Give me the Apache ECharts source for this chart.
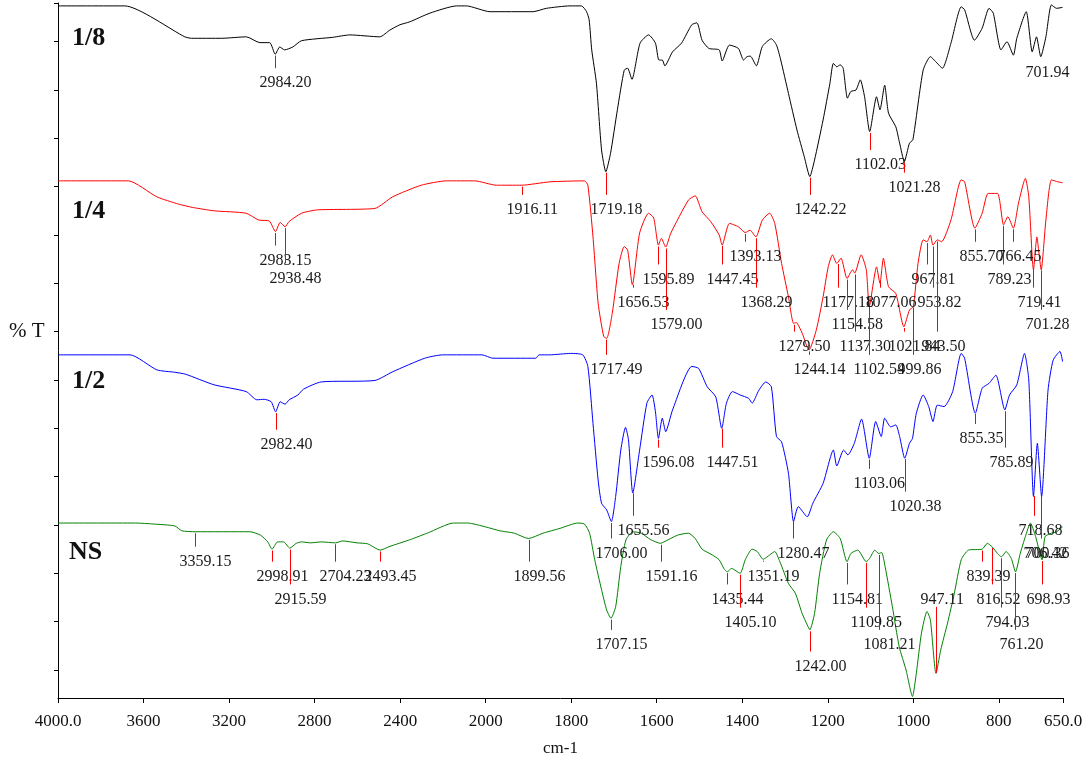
<!DOCTYPE html>
<html>
<head>
<meta charset="utf-8">
<script src="https://cdn.jsdelivr.net/npm/echarts@6/dist/echarts.min.js"></script>
<style>
  html, body { margin: 0; padding: 0; background: #fff; }
  #chart { width: 1092px; height: 762px; }
</style>
</head>
<body>
<div id="chart"></div>
<script>
// FTIR spectra, [wavenumber (cm-1), offset %T]
const spec18 = [
  [4000,137.4],[3688,137.4],[3407,131.0],[3376,130.7],[3234,130.7],[3119,131.0],[3056,129.8],[3010,129.8],
  [2984,127.4],[2963,128.9],[2940,128.3],[2902,128.9],[2861,130.2],[2715,130.9],[2635,131.4],[2495,131.0],
  [2448,132.4],[2401,133.5],[2355,134.1],[2261,135.9],[2136,137.4],[2090,137.4],[1990,136.2],[1889,136.2],
  [1858,136.9],[1803,137.4],[1776,137.4],[1764,136.2],[1758,134.5],[1752,128.3],[1741,121.4],[1729,107.6],
  [1719,103.1],[1708,106.9],[1692,115.9],[1676,124.1],[1668,124.5],[1658,122.2],[1639,129.7],[1619,131.4],
  [1603,129.7],[1595,126.2],[1587,126.2],[1581,125.0],[1563,127.9],[1542,129.7],[1518,133.5],[1506,133.9],
  [1494,130.3],[1478,128.6],[1454,128.3],[1447,126.0],[1430,129.3],[1409,128.6],[1397,126.2],[1389,126.9],
  [1381,127.0],[1367,125.0],[1353,129.0],[1332,130.6],[1320,129.3],[1310,126.2],[1292,119.3],[1272,111.7],
  [1255,106.2],[1242,102.1],[1231,105.5],[1211,113.8],[1195,121.4],[1187,125.5],[1179,124.8],[1171,125.2],
  [1164,124.5],[1154,118.3],[1146,119.7],[1134,120.0],[1124,122.1],[1114,118.6],[1102,111.4],[1086,118.6],
  [1078,115.9],[1067,121.0],[1058,115.2],[1041,112.4],[1032,109.0],[1021,105.2],[1009,109.0],[1001,109.7],
  [977,124.1],[960,126.9],[948,125.9],[932,124.5],[912,129.7],[888,137.2],[880,136.6],[857,130.3],
  [839,132.8],[823,136.9],[813,135.9],[795,128.3],[781,130.0],[766,127.2],[758,130.7],[736,136.2],
  [722,127.9],[712,131.0],[702,126.9],[690,131.0],[677,137.6],[665,136.9],[651,137.1]
];
const spec14 = [
  [4000,101.2],[3671,101.2],[3538,97.9],[3437,96.4],[3370,95.7],[3270,95.0],[3120,94.5],[3062,93.1],
  [3012,92.9],[2983,90.7],[2961,92.6],[2938,91.7],[2919,92.8],[2861,94.5],[2786,95.2],[2518,95.5],
  [2435,97.9],[2301,100.3],[2184,101.2],[2051,101.2],[1975,100.3],[1916,100.3],[1850,101.0],[1769,101.2],
  [1761,100.3],[1749,89.6],[1737,75.9],[1724,69.0],[1717,68.6],[1704,73.8],[1688,84.1],[1676,87.6],
  [1668,86.9],[1657,79.7],[1640,90.4],[1619,94.5],[1607,93.5],[1596,87.9],[1589,89.3],[1579,87.5],
  [1567,90.4],[1526,97.2],[1510,98.1],[1494,94.8],[1474,92.8],[1454,90.0],[1447,87.9],[1430,92.4],
  [1409,91.7],[1393,90.5],[1382,91.0],[1368,89.6],[1353,93.1],[1336,94.5],[1324,92.4],[1308,84.1],
  [1292,77.2],[1280,71.7],[1274,71.9],[1260,69.7],[1244,66.2],[1227,70.3],[1211,77.2],[1199,83.4],
  [1189,85.9],[1179,84.1],[1169,85.2],[1155,81.0],[1142,82.8],[1137,82.1],[1122,85.9],[1110,82.8],
  [1103,75.2],[1086,83.4],[1078,80.0],[1070,85.2],[1058,79.3],[1041,77.9],[1022,71.0],[1009,74.5],
  [1000,75.2],[989,84.1],[977,89.0],[968,88.6],[960,90.0],[954,87.9],[944,89.0],[934,88.6],
  [912,93.1],[888,101.4],[880,101.0],[856,91.4],[839,94.5],[825,98.6],[803,98.6],[789,92.1],
  [779,93.8],[766,91.4],[754,96.6],[738,101.7],[730,97.9],[719,82.8],[711,89.6],[707,86.9],
  [701,82.8],[690,93.1],[677,101.4],[662,101.0],[651,100.8]
];
const spec12 = [
  [4000,65.2],[3663,65.2],[3538,62.1],[3454,61.6],[3404,61.2],[3270,59.0],[3120,57.6],[3070,55.9],
  [3036,56.0],[3003,55.5],[2982,53.4],[2961,55.5],[2938,55.0],[2919,55.9],[2878,56.9],[2852,58.1],
  [2769,59.6],[2518,59.9],[2435,61.7],[2285,64.5],[2201,65.2],[2017,65.2],[1983,64.5],[1883,64.5],
  [1875,65.2],[1850,65.2],[1801,65.5],[1773,65.2],[1761,62.8],[1749,51.0],[1737,39.3],[1729,34.5],
  [1717,33.1],[1706,30.7],[1696,35.9],[1684,45.5],[1673,50.2],[1666,47.6],[1656,36.6],[1640,45.5],
  [1623,55.2],[1611,56.9],[1603,53.4],[1596,47.9],[1587,52.1],[1579,49.3],[1563,53.8],[1518,62.8],
  [1502,62.4],[1482,58.6],[1462,56.5],[1448,50.0],[1437,55.2],[1423,57.6],[1405,56.9],[1385,56.2],
  [1377,55.2],[1361,57.9],[1345,59.6],[1332,58.6],[1320,48.3],[1308,47.2],[1292,40.7],[1280,30.7],
  [1269,33.8],[1248,31.7],[1235,34.5],[1211,38.6],[1187,45.5],[1179,42.2],[1163,45.5],[1153,44.5],
  [1138,46.9],[1121,51.9],[1103,43.8],[1088,51.4],[1075,48.3],[1067,52.1],[1053,50.3],[1041,50.7],
  [1032,48.3],[1020,43.8],[1009,46.9],[1002,47.9],[993,53.1],[977,56.9],[964,54.5],[954,51.4],
  [944,54.8],[928,54.5],[908,57.6],[888,65.5],[880,64.5],[855,53.1],[839,58.3],[823,59.3],
  [807,61.0],[786,53.8],[775,56.9],[758,59.0],[740,65.5],[730,60.0],[719,35.9],[710,46.9],
  [700,35.9],[685,57.9],[673,64.1],[657,65.9],[651,63.8]
];
const specNS = [
  [4000,30.4],[3638,30.4],[3554,30.2],[3454,29.8],[3421,28.8],[3359,28.6],[3103,28.6],[3053,27.9],
  [3019,26.5],[2999,25.0],[2973,26.5],[2945,26.5],[2916,25.2],[2886,26.2],[2861,26.5],[2819,26.3],
  [2769,26.5],[2702,26.3],[2669,26.7],[2602,26.3],[2552,26.1],[2493,24.8],[2452,25.5],[2351,27.0],
  [2268,28.4],[2151,30.4],[2084,30.4],[2000,29.6],[1967,28.8],[1933,28.3],[1900,27.2],[1866,28.3],
  [1826,29.3],[1785,30.4],[1769,30.2],[1757,28.3],[1745,22.8],[1729,16.6],[1717,12.4],[1707,10.7],
  [1696,13.1],[1684,21.4],[1672,26.9],[1656,28.6],[1636,28.3],[1615,27.0],[1591,26.2],[1583,26.5],
  [1551,27.9],[1526,28.3],[1510,27.2],[1494,25.0],[1470,23.8],[1454,22.8],[1443,21.0],[1435,20.3],
  [1425,21.0],[1405,20.0],[1393,22.8],[1377,25.0],[1365,24.5],[1351,22.9],[1336,23.8],[1324,24.5],
  [1312,22.4],[1292,17.9],[1276,15.9],[1260,11.7],[1248,9.3],[1242,8.3],[1231,11.7],[1219,20.0],
  [1203,26.9],[1187,28.6],[1171,27.2],[1155,22.4],[1146,24.1],[1130,24.8],[1110,22.4],[1102,23.1],
  [1090,24.8],[1081,24.1],[1074,24.3],[1066,21.4],[1049,13.1],[1033,4.8],[1017,0.0],[1002,-5.5],
  [993,-0.7],[981,7.6],[968,12.1],[960,10.3],[947,-0.7],[936,4.1],[920,9.7],[904,15.9],
  [888,22.8],[871,24.8],[839,25.0],[827,26.2],[816,25.5],[803,24.1],[794,23.4],[783,24.5],
  [771,23.1],[761,20.3],[750,24.1],[738,27.6],[726,30.4],[714,27.6],[699,22.8],[692,27.6],
  [677,28.3],[665,28.6],[651,29.6]
];

// picked peaks (the text is the wavenumber)
const peaks18 = ['2984.20','1719.18','1242.22','1102.03','1021.28','701.94'];
const peaks14 = ['2983.15','2938.48','1916.11','1717.49','1656.53','1595.89','1579.00','1447.45','1393.13',
  '1368.29','1279.50','1244.14','1177.18','1154.58','1137.30','1102.54','1077.06','1021.84','999.86',
  '967.81','953.82','943.50','855.70','789.23','766.45','719.41','701.28'];
const peaks12 = ['2982.40','1706.00','1655.56','1596.08','1447.51','1280.47','1103.06','1020.38','855.35',
  '785.89','718.68','700.36'];
const peaksNS = ['3359.15','2998.91','2915.59','2704.23','2493.45','1899.56','1707.15','1591.16','1435.44',
  '1405.10','1351.19','1242.00','1154.81','1109.85','1081.21','947.11','839.39','816.52','794.03',
  '761.20','698.93','706.42'];

// label heights (axis units), one per peak, same order as above
const rows18 = [121.4, 95.2, 95.2, 104.5, 99.8, 123.5];
const rows14 = [84.7, 81.0, 95.2, 62.1, 76.0, 80.8, 71.4, 80.8, 85.5, 76.0, 66.9, 62.1, 76.0, 71.4, 66.9,
  62.1, 76.0, 66.9, 62.1, 80.8, 76.0, 66.9, 85.5, 80.8, 85.5, 76.0, 71.4];
const rows12 = [46.6, 24.1, 28.8, 42.9, 42.9, 24.1, 38.5, 33.8, 47.8, 42.9, 28.8, 24.1];
const rowsNS = [22.4, 19.3, 14.6, 19.3, 19.3, 19.3, 5.2, 19.3, 14.6, 9.8, 19.3, 0.7, 14.6, 9.8, 5.2, 14.6,
  19.3, 14.6, 9.8, 5.2, 14.6, 24.1];

const xTicks = [3000, 2800, 2600, 2400, 2200, 2000, 1800, 1600, 1400, 1200, 1000, 800, 650];
const yTicks = [0, 10, 20, 30, 40, 50, 60, 70, 80, 90, 100, 110, 120, 130, 138];

const SERIF = '"Liberation Serif", "Times New Roman", Times, serif';

// 4000-2000 cm-1 is drawn at half the scale of 2000-650 cm-1
const toAxis = w => (w > 2000 ? 2000 + (w - 2000) / 2 : w);
const fromAxis = u => (u > 2000 ? 2000 + (u - 2000) * 2 : u);

function valueAt(spec, w) {
  for (let i = 0; i < spec.length - 1; i++) {
    const [w0, v0] = spec[i], [w1, v1] = spec[i + 1];
    if (w <= w0 && w >= w1) return v0 + (v1 - v0) * (w0 - w) / (w0 - w1);
  }
  return spec[spec.length - 1][1];
}

const HALF_LABEL = 3.1;   // half a label height in axis units

function peakItems(spec, peaks, rows) {
  return peaks.map((txt, i) => {
    const w = parseFloat(txt);
    const curve = valueAt(spec, w);
    const row = rows[i];
    let a, b, show = 1;
    if (curve - 0.3 > row + HALF_LABEL) { a = curve - 0.3; b = row + HALF_LABEL; }
    else if (curve < row - HALF_LABEL) { a = row - HALF_LABEL / 2; b = curve; }
    else { a = b = row; show = 0; }
    return [toAxis(w), a, b, row, show];
  });
}

function peakSeries(spec, peaks, rows) {
  return {
    type: 'custom',
    silent: true,
    clip: false,
    z: 3,
    data: peakItems(spec, peaks, rows),
    renderItem(params, api) {
      const u = api.value(0);
      const x = Math.round(api.coord([u, 0])[0]) + 0.5;
      const y1 = api.coord([u, api.value(1)])[1];
      const y2 = api.coord([u, api.value(2)])[1];
      const yl = api.coord([u, api.value(3)])[1];
      const kids = [];
      if (api.value(4)) {
        kids.push({ type: 'line', shape: { x1: x, y1: y1, x2: x, y2: y2 },
          style: { stroke: '#ff0000', lineWidth: 1 } });
      }
      kids.push({ type: 'text', style: { text: peaks[params.dataIndex], x: x - 16, y: yl,
        font: '16px ' + SERIF, fill: '#1a1a1a', align: 'left', verticalAlign: 'middle' } });
      return { type: 'group', children: kids };
    }
  };
}

function lineSeries(name, spec, color) {
  return {
    name, type: 'line', showSymbol: false, silent: true, z: 2,
    smooth: 0.2,
    lineStyle: { color, width: 1 },
    data: spec.map(([w, v]) => [toAxis(w), v])
  };
}

const chart = echarts.init(document.getElementById('chart'), null, { renderer: 'canvas' });
chart.setOption({
  backgroundColor: '#ffffff',
  animation: false,
  grid: { left: 58, top: 3, width: 1005, height: 695, containLabel: false },
  xAxis: {
    type: 'value', min: 650, max: 3000, inverse: true,
    axisLine: { onZero: false, lineStyle: { color: '#000', width: 1 } },
    axisTick: { customValues: xTicks, length: 5, lineStyle: { color: '#000' } },
    axisLabel: {
      customValues: xTicks, margin: 15, color: '#111', fontFamily: SERIF, fontSize: 17,
      formatter: u => {
        const w = Math.round(fromAxis(u));
        return (w === 4000 || w === 650) ? w.toFixed(1) : String(w);
      }
    },
    splitLine: { show: false },
    name: 'cm-1', nameLocation: 'middle', nameGap: 42,
    nameTextStyle: { color: '#111', fontFamily: SERIF, fontSize: 17 }
  },
  yAxis: {
    type: 'value', min: -5.8, max: 138,
    axisLine: { show: true, onZero: false, lineStyle: { color: '#000', width: 1 } },
    axisTick: { show: true, customValues: yTicks, length: 4, lineStyle: { color: '#000' } },
    axisLabel: { show: false },
    splitLine: { show: false }
  },
  graphic: [
    { type: 'text', x: 9, y: 331, style: { text: '% T', font: '21px ' + SERIF, fill: '#111', verticalAlign: 'middle' } },
    { type: 'text', x: 72, y: 38, style: { text: '1/8', font: 'bold 26px ' + SERIF, fill: '#111', verticalAlign: 'middle' } },
    { type: 'text', x: 72, y: 211, style: { text: '1/4', font: 'bold 26px ' + SERIF, fill: '#111', verticalAlign: 'middle' } },
    { type: 'text', x: 72, y: 381, style: { text: '1/2', font: 'bold 26px ' + SERIF, fill: '#111', verticalAlign: 'middle' } },
    { type: 'text', x: 69, y: 552, style: { text: 'NS', font: 'bold 26px ' + SERIF, fill: '#111', verticalAlign: 'middle' } }
  ],
  series: [
    lineSeries('1/8', spec18, '#000000'),
    lineSeries('1/4', spec14, '#ff0000'),
    lineSeries('1/2', spec12, '#0000ff'),
    lineSeries('NS', specNS, '#008000'),
    peakSeries(spec18, peaks18, rows18),
    peakSeries(spec14, peaks14, rows14),
    peakSeries(spec12, peaks12, rows12),
    peakSeries(specNS, peaksNS, rowsNS)
  ]
});
</script>
</body>
</html>
